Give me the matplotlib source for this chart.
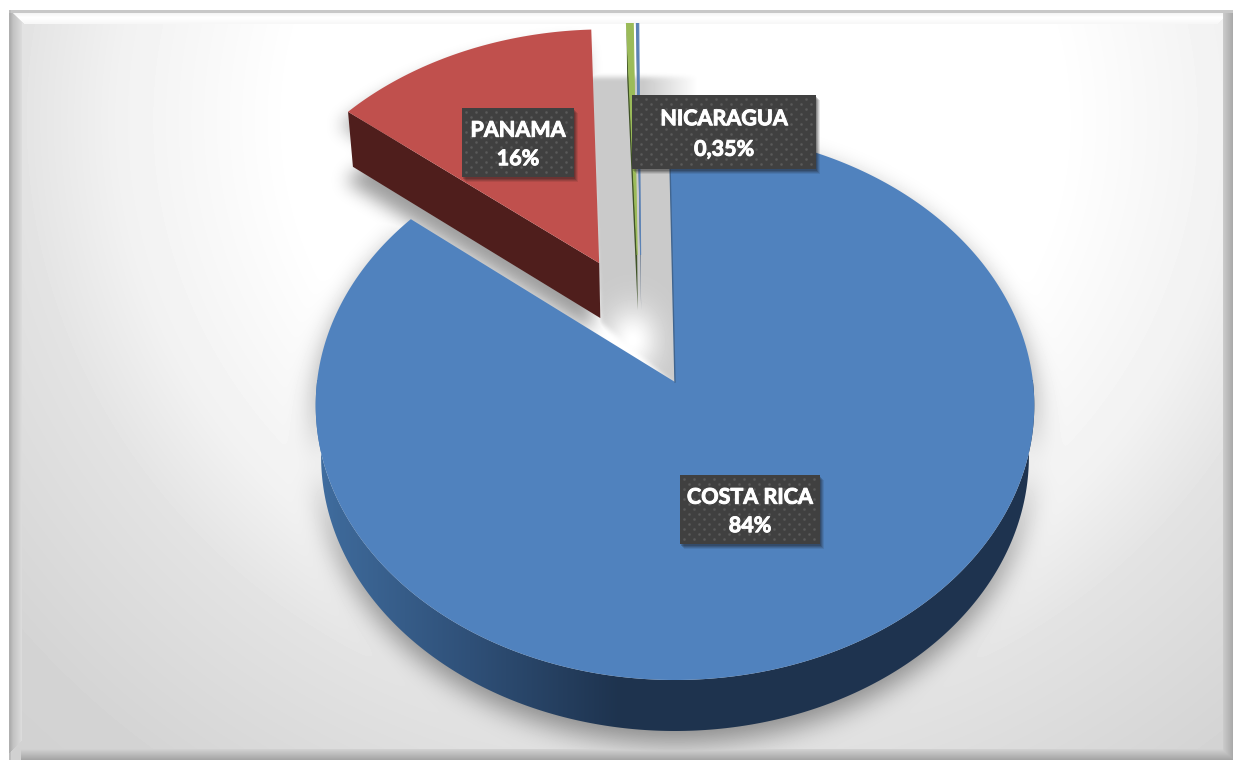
import numpy as np
import matplotlib
matplotlib.use("Agg")
import matplotlib.pyplot as plt
import matplotlib.patheffects as pe
from matplotlib.patches import Polygon, Rectangle
from matplotlib.path import Path

# ---------- data ----------
categories = ["COSTA RICA", "PANAMA", "NICARAGUA", ""]
values = [84.0, 16.0, 0.35, 0.12]
pct_labels = ["84%", "16%", "0,35%", ""]
colors = ["#5082be", "#c0504d", "#9bbb59", "#5b82b5"]
wall_colors = ["#1d324d", "#4f1e1c", "#3f5227", "#2b4468"]

# ---------- style / layout ----------
W, H = 1233, 762
CX, APEX_Y, KX = 675.0, 382.0, 358.0
C, A = 0.085, -240.2
WARP, WARP_AT, WARP_W = 9.0, 300.0, 30.0
START = -1.0
offsets = [(0.0, 0.0), (-0.220, 0.453), (-0.110, 0.485), (-0.100, 0.485)]
depths = [51, 55, 55, 55]
label_boxes = [(680, 475, 140, 69), (462, 108, 112, 69), (632, 95, 184, 74)]
plt.rcParams["font.family"] = ["Lato", "DejaVu Sans"]


def project(u, v):
    d = 1 + C * v
    return CX + KX * u / d, (APEX_Y + A * v) / d


def rim(t_deg, off):
    t_deg = np.asarray(t_deg, float)
    t = np.radians(t_deg + WARP * np.exp(-((t_deg - WARP_AT) / WARP_W) ** 2))
    return project(off[0] + np.sin(t), off[1] + np.cos(t))


def lower(x, y, depth):
    return CX + (x - CX) * 0.985, y + depth


def blur(a, r):
    for _ in range(3):
        for axis in (0, 1):
            c = np.cumsum(a, axis=axis)
            pad = np.zeros_like(np.take(c, [0], axis=axis))
            c = np.concatenate([pad, c], axis=axis)
            n = a.shape[axis]
            i1 = np.clip(np.arange(n) + r + 1, 0, n)
            i0 = np.clip(np.arange(n) - r, 0, n)
            a = (np.take(c, i1, axis=axis) - np.take(c, i0, axis=axis)) / (2 * r + 1)
    return a


yy, xx = np.mgrid[0:H, 0:W]
pts = np.column_stack([xx.ravel() + .5, yy.ravel() + .5])


def mask(px, py, dx=0, dy=0):
    poly = np.column_stack([np.asarray(px) + dx, np.asarray(py) + dy])
    return Path(poly).contains_points(pts).reshape(H, W).astype(float)


# slice geometry from the values
total = sum(values)
edges = START + np.cumsum([0] + values) * 360 / total
shapes = []
for i in range(len(values)):
    ts = np.linspace(edges[i], edges[i + 1], max(3, int(edges[i + 1] - edges[i]) * 2))
    rx, ry = rim(ts, offsets[i])
    ax0, ay0 = project(*offsets[i])
    shapes.append((ax0, ay0, rx, ry))

# ---------- background ----------
d = np.hypot((xx - 675) / 850, (yy - 120) / 800)
bg = np.interp(d, [.45, .66, .78, 1.0, 1.25], [255, 241, 226, 212, 205]).astype(float)


def silhouette(i):
    ax0, ay0, rx, ry = shapes[i]
    lx, ly = lower(rx, ry, depths[i])
    lax, lay = lower(ax0, ay0, depths[i])
    px = np.r_[ax0, rx, lx[::-1], lax]
    py = np.r_[ay0, ry, ly[::-1], lay]
    return px, py


s = np.zeros((H, W))
px, py = silhouette(0)
s = np.maximum(s, 0.40 * blur(mask(px, py, 0, 12), 12))
px, py = silhouette(1)
s = np.maximum(s, 0.38 * blur(mask(px, py, -8, 14), 8))
# shadow seen through the gap
gap = mask([588, 720, 720, 674, 600], [77, 77, 385, 385, 322])
glow = np.exp(-(((xx - 632) / 26.0) ** 2 + ((yy - 340) / 32.0) ** 2))
fade = np.where(yy < 130, np.clip((698 - xx) / 55.0, 0, 1), 1.0)
s = np.maximum(s, 0.21 * blur(gap, 2) * (1 - glow) * fade)
bg = bg * (1 - s)

# frame bevels
rgb = bg.copy()
top = (yy < 24 - 0) & (xx > yy) & (xx < W - (yy - 8))
rgb[top] = np.interp(yy[top], [13, 17, 24], [245, 255, 245])
left = (xx < 22) & (yy > xx) & (yy < H - xx)
rgb[left] = np.interp(xx[left], [10, 13, 22], [175, 195, 222])
right = (xx > 1222) & (yy > 12)
rgb[right] = np.interp(xx[right], [1222, 1232], [205, 170])
bottom = (yy > 748) & (xx > 20)
rgb[bottom] = np.minimum(rgb[bottom], np.interp(yy[bottom], [748, 759], [212, 165]))
rgb[:, :9] = 255
rgb[10:13, 9:] = 200
rgb[:, 9:11] = np.minimum(rgb[:, 9:11], 190)
rgb[:10, :] = 255
rgb[760:, :] = 255

fig = plt.figure(figsize=(W / 100, H / 100), dpi=100)
ax = fig.add_axes([0, 0, 1, 1])
ax.set_xlim(0, W)
ax.set_ylim(H, 0)
ax.axis("off")
ax.imshow(rgb, cmap="gray", vmin=0, vmax=255, extent=(0, W, H, 0), aspect="auto", zorder=0, interpolation="nearest")

# ---------- blue slice ----------
ax0, ay0, rx, ry = shapes[0]
lx, ly = lower(rx, ry, depths[0])
wall = Polygon(np.column_stack([np.r_[rx, lx[::-1]], np.r_[ry, ly[::-1]]]), closed=True,
               facecolor="none", edgecolor="none", zorder=2)
ax.add_patch(wall)
grad_x = np.linspace(310, 1040, 730)
gr = np.interp(grad_x, [310, 340, 470, 620, 1040], [0x42, 0x3d, 0x2f, 0x1e, 0x1e])
gg = np.interp(grad_x, [310, 340, 470, 620, 1040], [0x70, 0x68, 0x50, 0x33, 0x34])
gb = np.interp(grad_x, [310, 340, 470, 620, 1040], [0xa4, 0x98, 0x78, 0x4e, 0x50])
im = ax.imshow(np.dstack([gr, gg, gb]) / 255, extent=(310, 1040, 760, 380), aspect="auto", zorder=2)
im.set_clip_path(wall)
ax.set_xlim(0, W)
ax.set_ylim(H, 0)
ax.add_patch(Polygon(np.column_stack([np.r_[ax0, rx], np.r_[ay0, ry]]), closed=True,
                     facecolor=colors[0], edgecolor="none", zorder=3))
ax.plot([rx[0], ax0], [ry[0], ay0], color="#41658f", lw=1.0, zorder=3.2)

# ---------- exploded slices ----------
clip = Rectangle((0, 23), W, H, transform=ax.transData)
for i in (1, 2, 3):
    ax0, ay0, rx, ry = shapes[i]
    lx0, ly0 = lower(rx[0], ry[0], depths[i])
    lax, lay = lower(ax0, ay0, depths[i])
    wp = Polygon([(rx[0], ry[0]), (ax0, ay0), (lax, lay), (lx0, ly0)], closed=True,
                 facecolor=wall_colors[i], edgecolor="none", zorder=4 + i * .1)
    ax.add_patch(wp)
    wp.set_clip_path(clip)
    tp = Polygon(np.column_stack([np.r_[ax0, rx], np.r_[ay0, ry]]), closed=True,
                 facecolor=colors[i], edgecolor=colors[i] if i > 1 else "none",
                 lw=0.8 if i > 1 else 0, zorder=4.05 + i * .1)
    ax.add_patch(tp)
    tp.set_clip_path(clip)

# ---------- labels ----------
for (x, y, w, h), name, pct in zip(label_boxes, categories, pct_labels):
    for k, al in ((5, .10), (4, .14), (3, .18), (2, .22)):
        ax.add_patch(Rectangle((x + k - 1, y + k), w, h, facecolor="#1a1a1a", alpha=al, edgecolor="none", zorder=6))
    ax.add_patch(Rectangle((x, y), w, h, facecolor="#404040", edgecolor="none", zorder=6.2))
    gx, gy = np.meshgrid(np.arange(x + 4, x + w - 1, 10), np.arange(y + 4, y + h - 1, 10))
    gx2, gy2 = np.meshgrid(np.arange(x + 9, x + w - 1, 10), np.arange(y + 9, y + h - 1, 10))
    ax.scatter(np.r_[gx.ravel(), gx2.ravel()], np.r_[gy.ravel(), gy2.ravel()], s=3.5,
               color="#5a5a5a", linewidths=0, zorder=6.3)
    stroke = [pe.withStroke(linewidth=0.7, foreground="white")]
    ax.text(x + w / 2, y + h * .30 + 1.5, name, color="white", fontsize=15.5, fontweight="bold",
            ha="center", va="center", zorder=7, path_effects=stroke)
    ax.text(x + w / 2, y + h * .72 + 1, pct, color="white", fontsize=15.5, fontweight="bold",
            ha="center", va="center", zorder=7, path_effects=stroke)

fig.savefig("out.png", dpi=100)
